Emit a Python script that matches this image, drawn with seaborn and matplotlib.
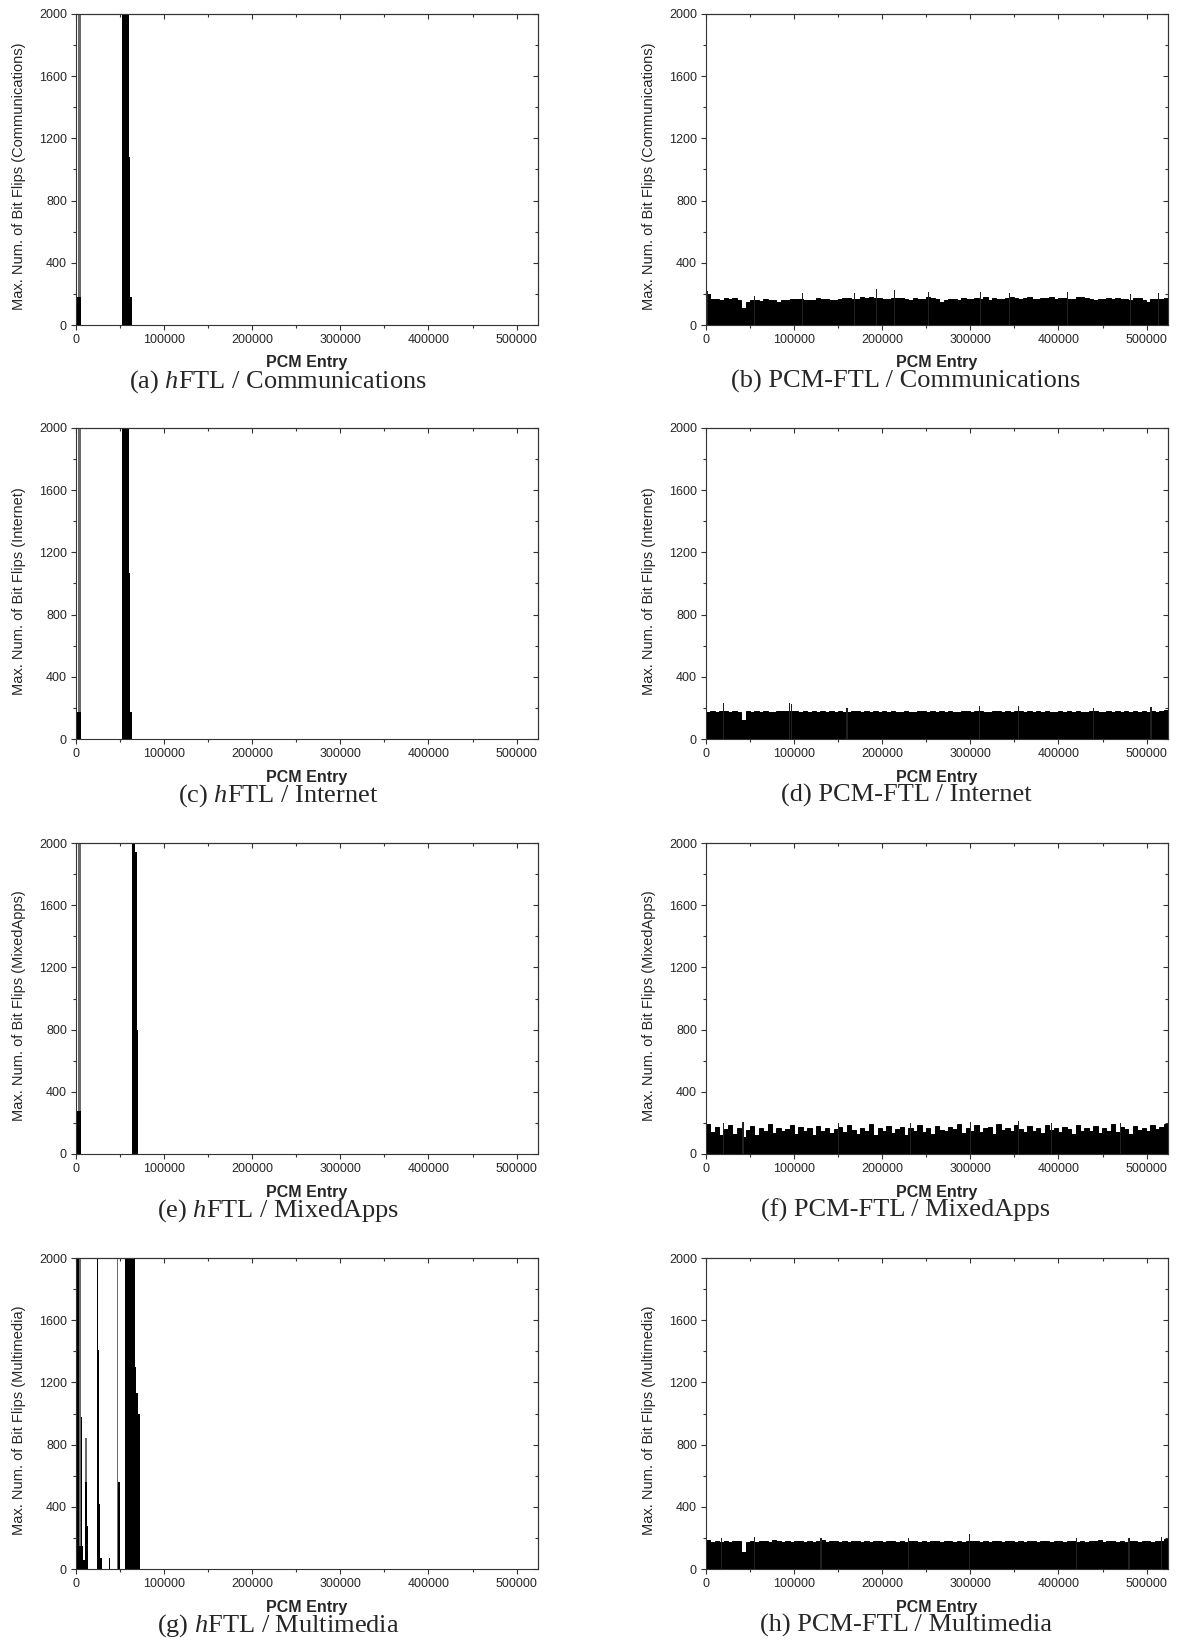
import numpy as np
import pandas as pd
import matplotlib
matplotlib.use("Agg")
import matplotlib.pyplot as plt
import seaborn as sns
from matplotlib.ticker import MultipleLocator, NullFormatter

# ---------------- data ----------------
N_ENTRIES = 524288
X_MAJOR = [0, 100000, 200000, 300000, 400000, 500000]
Y_MAJOR = [0, 400, 800, 1200, 1600, 2000]

WORKLOADS = ["Communications", "Internet", "MixedApps", "Multimedia"]
LETTERS_L = ["a", "c", "e", "g"]
LETTERS_R = ["b", "d", "f", "h"]

# hFTL: (start entry, end entry, max bit flips); values > 2000 are clipped by the axis
HFTL_COMM_GRAY = [(2300, 5600, 2400)]
HFTL_COMM_BLACK = [(0, 800, 180), (800, 1500, 2400), (1500, 5600, 180),
                   (52250, 59800, 2400), (59800, 60950, 1080),
                   (60950, 61700, 540), (61700, 63600, 180)]

HFTL_INET_GRAY = [(2300, 5600, 2400)]
HFTL_INET_BLACK = [(0, 800, 175), (800, 1500, 2400), (1500, 5600, 175),
                   (52000, 59800, 2400), (59800, 60950, 1070),
                   (60950, 61700, 535), (61700, 63600, 175)]

HFTL_MIXED_GRAY = [(2300, 5600, 2400)]
HFTL_MIXED_BLACK = [(0, 800, 278), (800, 1500, 2400), (1500, 5600, 278),
                    (63600, 67400, 2400), (67400, 69300, 1940),
                    (69300, 70400, 800)]

HFTL_MM_GRAY = [(3400, 6000, 2400), (9870, 12900, 842), (46600, 47300, 2400)]
HFTL_MM_BLACK = [(0, 800, 146), (800, 3400, 2400), (3400, 5600, 146),
                 (5600, 6300, 980), (6300, 8500, 146), (8500, 9870, 60),
                 (9870, 12100, 557), (12100, 13500, 278),
                 (23900, 25000, 2400), (25000, 26500, 1406),
                 (26500, 27650, 420), (27650, 29500, 71),
                 (37100, 39000, 71), (47300, 49600, 557),
                 (56000, 66600, 2400), (66600, 68500, 1300),
                 (68500, 70400, 1130), (70400, 73000, 1000)]

# PCM-FTL: max bit flips per ~5000-entry group across the whole PCM
PCM_COMM = [200, 165, 170, 160, 172, 168, 175, 160, 110, 150,
            158, 162, 155, 165, 160, 158, 150, 163, 160, 168,
            165, 170, 158, 162, 160, 175, 165, 170, 158, 163,
            170, 175, 172, 168, 165, 180, 172, 178, 175, 175,
            170, 168, 172, 176, 175, 165, 160, 172, 168, 170,
            178, 175, 168, 150, 160, 165, 170, 158, 172, 168,
            165, 175, 170, 178, 160, 172, 168, 170, 175, 178,
            175, 168, 172, 180, 170, 165, 172, 175, 178, 168,
            172, 175, 170, 165, 178, 180, 175, 168, 160, 165,
            170, 172, 168, 175, 165, 170, 158, 176, 172, 160,
            150, 165, 170, 168, 172]
PCM_INET = [175, 178, 172, 180, 182, 176, 178, 174, 120, 178,
            176, 180, 175, 178, 174, 176, 180, 178, 182, 180,
            178, 175, 180, 176, 178, 174, 180, 176, 178, 175,
            180, 176, 174, 178, 180, 175, 178, 176, 180, 174,
            178, 176, 180, 175, 172, 178, 176, 174, 180, 178,
            175, 178, 176, 180, 174, 178, 176, 175, 178, 180,
            176, 178, 182, 176, 174, 178, 180, 176, 178, 174,
            180, 182, 176, 178, 175, 180, 176, 178, 174, 176,
            178, 175, 180, 176, 178, 174, 176, 180, 178, 175,
            176, 178, 174, 180, 176, 178, 175, 180, 176, 178,
            174, 180, 176, 178, 185]
PCM_MIXED = [190, 140, 175, 120, 160, 185, 130, 170, 110, 155,
             180, 125, 165, 150, 190, 135, 170, 145, 160, 185,
             130, 175, 150, 165, 120, 180, 145, 170, 135, 160,
             175, 140, 185, 155, 130, 170, 150, 190, 125, 165,
             145, 180, 135, 160, 175, 120, 165, 150, 185, 140,
             170, 130, 180, 155, 145, 175, 160, 190, 135, 170,
             150, 185, 140, 165, 175, 130, 195, 155, 170, 145,
             185, 160, 140, 180, 150, 170, 135, 185, 155, 165,
             140, 175, 160, 130, 185, 150, 170, 145, 180, 135,
             165, 150, 190, 140, 175, 160, 130, 180, 155, 170,
             145, 185, 160, 175, 190]
PCM_MM = [185, 172, 180, 176, 182, 174, 178, 180, 110, 176,
          180, 176, 182, 178, 174, 185, 178, 176, 180, 174,
          178, 182, 176, 180, 174, 178, 185, 176, 180, 178,
          174, 180, 176, 182, 178, 176, 180, 174, 178, 182,
          176, 180, 178, 174, 182, 176, 180, 178, 176, 180,
          174, 178, 182, 176, 180, 178, 174, 180, 176, 182,
          180, 178, 176, 180, 174, 178, 182, 176, 180, 178,
          176, 180, 174, 178, 182, 176, 180, 178, 174, 180,
          178, 176, 182, 180, 174, 178, 176, 180, 178, 185,
          176, 180, 178, 174, 182, 176, 180, 178, 176, 180,
          182, 176, 180, 178, 190]

# PCM-FTL isolated single-entry peaks: (entry, max bit flips)
PCM_COMM_PEAKS = [(1500, 216), (55500, 184), (110000, 205), (168000, 205),
                  (193000, 231), (214000, 223), (252000, 212), (312000, 210),
                  (344000, 205), (410000, 212), (482000, 201), (514000, 205)]
PCM_INET_PEAKS = [(20000, 232), (95000, 232), (97500, 225), (160000, 200),
                  (310000, 212), (355000, 215), (440000, 200), (505000, 205)]
PCM_MIXED_PEAKS = [(20000, 200), (42000, 205), (150000, 200), (232000, 200),
                   (300000, 205), (355000, 215), (392000, 200), (470000, 200)]
PCM_MM_PEAKS = [(18000, 200), (55500, 208), (130500, 201), (230000, 200),
                (299300, 227), (420000, 200), (480000, 198), (517000, 208)]

HFTL_GRAY = [HFTL_COMM_GRAY, HFTL_INET_GRAY, HFTL_MIXED_GRAY, HFTL_MM_GRAY]
HFTL_BLACK = [HFTL_COMM_BLACK, HFTL_INET_BLACK, HFTL_MIXED_BLACK, HFTL_MM_BLACK]
PCM_VALUES = [PCM_COMM, PCM_INET, PCM_MIXED, PCM_MM]
PCM_PEAKS = [PCM_COMM_PEAKS, PCM_INET_PEAKS, PCM_MIXED_PEAKS, PCM_MM_PEAKS]

# ---------------- style ----------------
sns.set_style("ticks")
plt.rcParams["font.family"] = ["Liberation Sans", "DejaVu Sans"]
plt.rcParams["mathtext.fontset"] = "custom"
plt.rcParams["mathtext.rm"] = "Liberation Serif"
plt.rcParams["mathtext.it"] = "Liberation Serif:italic"

SPINE = "#333333"
GRAY = "#6a6a6a"
PEAK_HALF_WIDTH = 600

W, H = 1186, 1644
fig = plt.figure(figsize=(W / 100, H / 100), dpi=100)

AX_W = 462
AX_H = 311
LEFT_X = [76, 706]
ROW_TOP = [14, 428, 843, 1258]
CAP_X = [278, 906]
CAP_BASE = [388, 802, 1217, 1632]


def draw_bins(ax, edges, mids, weights, color, lw=0.0):
    df = pd.DataFrame({"entry": [float(m) for m in mids],
                       "flips": [float(v) for v in weights]})
    sns.histplot(data=df, x="entry", weights="flips",
                 bins=[float(e) for e in edges], ax=ax, color=color,
                 element="bars", fill=True, stat="count",
                 linewidth=lw, edgecolor=color, alpha=1)


def draw_segments(ax, segs, color, lw=0.0):
    edges = sorted(set([s for s, _, _ in segs] + [e for _, e, _ in segs]))
    mids = [(s + e) / 2 for s, e, _ in segs]
    w = [v for _, _, v in segs]
    draw_bins(ax, edges, mids, w, color, lw)


def style_axes(ax, label):
    ax.set_xlim(0, N_ENTRIES)
    ax.set_ylim(0, 2000)
    ax.set_xticks(X_MAJOR)
    ax.set_xticklabels([str(v) for v in X_MAJOR])
    ax.set_yticks(Y_MAJOR)
    ax.set_yticklabels([str(v) for v in Y_MAJOR])
    ax.xaxis.set_minor_locator(MultipleLocator(50000))
    ax.yaxis.set_minor_locator(MultipleLocator(200))
    ax.tick_params(axis="both", which="major", direction="out", length=3.5,
                   width=0.8, color=SPINE, labelsize=9, pad=3)
    ax.tick_params(axis="both", which="minor", direction="out", length=2,
                   width=0.8, color=SPINE)
    for sp in ax.spines.values():
        sp.set_visible(True)
        sp.set_color(SPINE)
        sp.set_linewidth(0.8)
    ax.set_xlabel("PCM Entry", fontsize=11.5, fontweight="bold")
    ax.xaxis.label.set_verticalalignment("baseline")
    ax.xaxis.set_label_coords(0.5, -(367.5 - 325) / AX_H)
    ax.set_ylabel("Max. Num. of Bit Flips (%s)" % label, fontsize=10.5)
    ax.yaxis.set_label_coords(-0.108, 0.477)
    # inward ticks on top and right
    sx = ax.secondary_xaxis("top")
    sx.xaxis.set_major_locator(MultipleLocator(100000))
    sx.xaxis.set_minor_locator(MultipleLocator(50000))
    sx.xaxis.set_major_formatter(NullFormatter())
    sx.tick_params(axis="x", which="major", direction="in", length=3.5, width=0.8, color=SPINE)
    sx.tick_params(axis="x", which="minor", direction="in", length=2, width=0.8, color=SPINE)
    for sp in sx.spines.values():
        sp.set_color(SPINE)
        sp.set_linewidth(0.8)
    sy = ax.secondary_yaxis("right")
    sy.yaxis.set_major_locator(MultipleLocator(400))
    sy.yaxis.set_minor_locator(MultipleLocator(200))
    sy.yaxis.set_major_formatter(NullFormatter())
    sy.tick_params(axis="y", which="major", direction="in", length=3.5, width=0.8, color=SPINE)
    sy.tick_params(axis="y", which="minor", direction="in", length=2, width=0.8, color=SPINE)
    for sp in sy.spines.values():
        sp.set_color(SPINE)
        sp.set_linewidth(0.8)


for r in range(4):
    bottom = 1 - (ROW_TOP[r] + AX_H) / H
    # left: hFTL
    axl = fig.add_axes([LEFT_X[0] / W, bottom, AX_W / W, AX_H / H])
    draw_segments(axl, HFTL_GRAY[r], GRAY)
    draw_segments(axl, HFTL_BLACK[r], "black")
    style_axes(axl, WORKLOADS[r])

    # right: PCM-FTL
    axr = fig.add_axes([LEFT_X[1] / W, bottom, AX_W / W, AX_H / H])
    vals = PCM_VALUES[r]
    edges = np.linspace(0, N_ENTRIES, len(vals) + 1)
    mids = (edges[:-1] + edges[1:]) / 2
    draw_bins(axr, edges, mids, vals, "black", lw=0.7)
    peaks = [(max(0, p - PEAK_HALF_WIDTH), min(N_ENTRIES, p + PEAK_HALF_WIDTH), v)
             for p, v in PCM_PEAKS[r]]
    draw_segments(axr, peaks, "#202020")
    style_axes(axr, WORKLOADS[r])

    fig.text(CAP_X[0] / W, 1 - CAP_BASE[r] / H,
             "(%s) $h$FTL / %s" % (LETTERS_L[r], WORKLOADS[r]),
             ha="center", va="baseline", fontsize=19, family="Liberation Serif")
    fig.text(CAP_X[1] / W, 1 - CAP_BASE[r] / H,
             "(%s) PCM-FTL / %s" % (LETTERS_R[r], WORKLOADS[r]),
             ha="center", va="baseline", fontsize=19, family="Liberation Serif")

fig.savefig("out.png", dpi=100)
